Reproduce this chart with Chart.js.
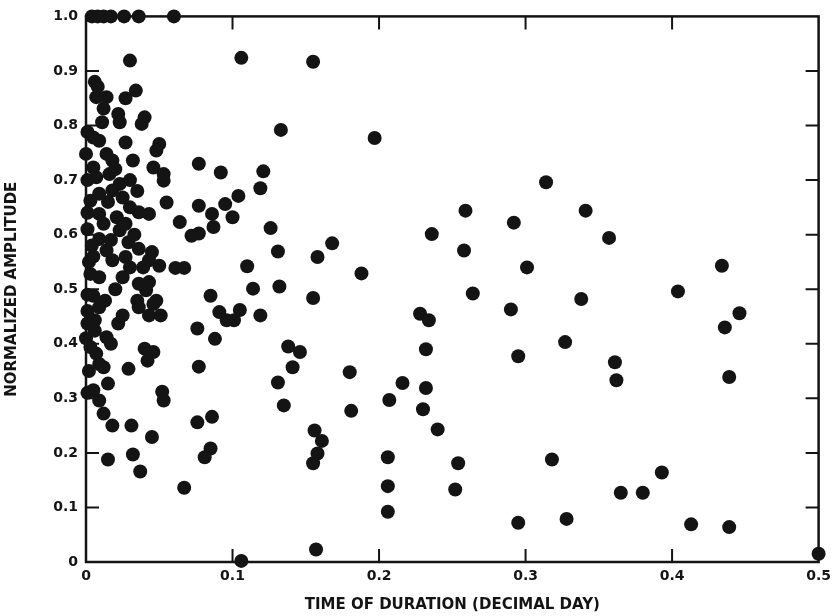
<!DOCTYPE html>
<html>
<head>
<meta charset="utf-8">
<script src="https://cdn.jsdelivr.net/npm/chart.js@4"></script>
<style>
  html, body { margin: 0; padding: 0; background: #ffffff; }
  #wrap { width: 837px; height: 616px; position: relative; }
</style>
</head>
<body>
<div id="wrap"><canvas id="c"></canvas></div>
<script>
// ---- data ----
const xTickValues = [0, 0.1, 0.2, 0.3, 0.4, 0.5];
const xTickLabels = ['0', '0.1', '0.2', '0.3', '0.4', '0.5'];
const yTickValues = [0, 0.1, 0.2, 0.3, 0.4, 0.5, 0.6, 0.7, 0.8, 0.9, 1.0];
const yTickLabels = ['0', '0.1', '0.2', '0.3', '0.4', '0.5', '0.6', '0.7', '0.8', '0.9', '1.0'];

// time of duration (decimal day)
const durations = [
  0.004, 0.008, 0.012, 0.017, 0.026, 0.036, 0.060,
  0.106, 0.155, 0.030,
  0.133, 0.197, 0.314,
  0.259, 0.292, 0.236, 0.258, 0.131, 0.158, 0.168, 0.188, 0.301, 0.264, 0.132, 0.155, 0.126, 0.121, 0.119,
  0.341, 0.357, 0.434, 0.404, 0.338,
  0.446, 0.436, 0.327, 0.361, 0.362, 0.439, 0.318, 0.393, 0.365, 0.380, 0.328, 0.413, 0.439, 0.500,
  0.290, 0.295, 0.228, 0.234, 0.232, 0.138, 0.146, 0.141, 0.131, 0.135, 0.180, 0.181, 0.216, 0.207, 0.232, 0.230, 0.240,
  0.156, 0.161, 0.158, 0.155, 0.206, 0.254, 0.206, 0.252, 0.206, 0.295, 0.157,
  0.104, 0.110, 0.114, 0.105, 0.119, 0.100,
  0.006, 0.008, 0.007, 0.014, 0.012, 0.022, 0.023, 0.011, 0.027, 0.034, 0.040, 0.038, 0.001, 0.005, 0.009, 0.027,
  0.050, 0.048, 0.000, 0.014, 0.018, 0.032, 0.046, 0.053, 0.053, 0.077, 0.092, 0.005, 0.007, 0.016, 0.023, 0.009,
  0.018, 0.025, 0.003, 0.030, 0.036, 0.043, 0.009, 0.021, 0.023, 0.029, 0.027, 0.018, 0.009, 0.014, 0.036, 0.045,
  0.050, 0.043, 0.003, 0.009, 0.025, 0.036, 0.043, 0.041, 0.005, 0.013, 0.035, 0.048,
  0.055, 0.077, 0.064, 0.072, 0.077, 0.086, 0.087, 0.095,
  0.061, 0.067, 0.085,
  0.009, 0.006, 0.006, 0.014, 0.017, 0.025, 0.022, 0.003, 0.007, 0.009, 0.012, 0.036, 0.043, 0.051, 0.046,
  0.040, 0.046, 0.042, 0.029, 0.015, 0.005, 0.009, 0.012, 0.018, 0.031, 0.076, 0.088, 0.077, 0.052, 0.053,
  0.091, 0.096, 0.101, 0.076, 0.086, 0.001,
  0.045, 0.015, 0.032, 0.037, 0.067, 0.085, 0.081, 0.106,
  0.001, 0.001, 0.001, 0.004, 0.002, 0.001, 0.001, 0.000, 0.002, 0.001,
  0.015, 0.020, 0.030, 0.035, 0.012, 0.027, 0.017, 0.030, 0.020, 0.005, 0.033, 0.039
];

// normalized amplitude
const amplitudes = [
  1.0, 1.0, 1.0, 1.0, 1.0, 1.0, 1.0,
  0.924, 0.917, 0.919,
  0.792, 0.777, 0.696,
  0.644, 0.622, 0.601, 0.571, 0.569, 0.559, 0.584, 0.529, 0.540, 0.492, 0.505, 0.484, 0.612, 0.716, 0.685,
  0.644, 0.594, 0.543, 0.496, 0.482,
  0.456, 0.430, 0.403, 0.366, 0.333, 0.339, 0.188, 0.164, 0.127, 0.127, 0.079, 0.069, 0.064, 0.015,
  0.463, 0.377, 0.455, 0.443, 0.390, 0.395, 0.385, 0.357, 0.329, 0.287, 0.348, 0.277, 0.328, 0.297, 0.319, 0.280, 0.243,
  0.241, 0.222, 0.199, 0.181, 0.192, 0.181, 0.139, 0.133, 0.092, 0.072, 0.023,
  0.671, 0.542, 0.501, 0.462, 0.452, 0.632,
  0.880, 0.871, 0.852, 0.852, 0.831, 0.821, 0.806, 0.806, 0.850, 0.864, 0.815, 0.803, 0.788, 0.778, 0.772, 0.769,
  0.766, 0.754, 0.748, 0.748, 0.736, 0.736, 0.723, 0.711, 0.699, 0.730, 0.714, 0.723, 0.705, 0.711, 0.693, 0.675,
  0.681, 0.668, 0.662, 0.650, 0.641, 0.638, 0.638, 0.632, 0.608, 0.586, 0.559, 0.553, 0.592, 0.571, 0.574, 0.568,
  0.543, 0.553, 0.528, 0.522, 0.522, 0.510, 0.513, 0.498, 0.488, 0.479, 0.479, 0.479,
  0.659, 0.653, 0.623, 0.598, 0.602, 0.638, 0.614, 0.656,
  0.539, 0.539, 0.488,
  0.467, 0.443, 0.424, 0.412, 0.400, 0.452, 0.437, 0.394, 0.382, 0.363, 0.357, 0.467, 0.452, 0.452, 0.473,
  0.391, 0.385, 0.369, 0.354, 0.327, 0.315, 0.296, 0.272, 0.250, 0.250, 0.428, 0.409, 0.358, 0.312, 0.296,
  0.458, 0.443, 0.443, 0.256, 0.266, 0.437,
  0.229, 0.188, 0.197, 0.166, 0.136, 0.208, 0.192, 0.002,
  0.700, 0.640, 0.610, 0.580, 0.550, 0.490, 0.460, 0.410, 0.350, 0.310,
  0.660, 0.720, 0.700, 0.680, 0.620, 0.620, 0.590, 0.540, 0.500, 0.560, 0.600, 0.540
];

const points = durations.map((d, i) => ({ x: d, y: amplitudes[i] }));

const INK = '#141414';

const framePlugin = {
  id: 'frame',
  beforeDatasetsDraw(chart) {
    const { ctx, chartArea, scales } = chart;
    const { left, right, top, bottom } = chartArea;
    ctx.save();
    ctx.strokeStyle = INK;
    ctx.lineWidth = 2.5;
    ctx.strokeRect(left, top, right - left, bottom - top);
    ctx.lineWidth = 2;
    const tl = 13;
    ctx.beginPath();
    xTickValues.forEach(v => {
      if (v <= scales.x.min || v >= scales.x.max) return;
      const px = scales.x.getPixelForValue(v);
      ctx.moveTo(px, bottom); ctx.lineTo(px, bottom - tl);
      ctx.moveTo(px, top); ctx.lineTo(px, top + tl);
    });
    yTickValues.forEach(v => {
      if (v <= scales.y.min || v >= scales.y.max) return;
      const py = scales.y.getPixelForValue(v);
      ctx.moveTo(left, py); ctx.lineTo(left + tl, py);
      ctx.moveTo(right, py); ctx.lineTo(right - tl, py);
    });
    ctx.stroke();
    ctx.restore();
  }
};

const tickFont = { family: '"DejaVu Sans", sans-serif', size: 14, weight: 'bold' };
const titleFont = { family: '"DejaVu Sans", sans-serif', size: 15, weight: 'bold' };

new Chart(document.getElementById('c'), {
  type: 'scatter',
  data: {
    datasets: [{
      data: points,
      backgroundColor: INK,
      borderWidth: 0,
      pointRadius: 7,
      pointHoverRadius: 7,
      clip: false
    }]
  },
  plugins: [framePlugin],
  options: {
    responsive: true,
    maintainAspectRatio: false,
    animation: false,
    events: [],
    layout: { padding: { top: 16, right: 8, left: 0, bottom: 0 } },
    plugins: { legend: { display: false }, tooltip: { enabled: false } },
    scales: {
      x: {
        type: 'linear',
        min: 0, max: 0.5,
        afterBuildTicks: s => { s.ticks = xTickValues.map(v => ({ value: v })); },
        afterFit: s => { s.height = 54; },
        grid: { display: false, drawTicks: false },
        border: { display: false },
        ticks: {
          autoSkip: false, maxRotation: 0, padding: 6, color: INK, font: tickFont,
          callback: (v, i) => xTickLabels[i]
        },
        title: {
          display: true, text: 'TIME OF DURATION (DECIMAL DAY)',
          color: INK, font: titleFont, padding: { top: 0, bottom: 2 }
        }
      },
      y: {
        type: 'linear',
        min: 0, max: 1,
        afterBuildTicks: s => { s.ticks = yTickValues.map(v => ({ value: v })); },
        afterFit: s => { s.width = 86; },
        grid: { display: false, drawTicks: false },
        border: { display: false },
        ticks: {
          autoSkip: false, padding: 8, color: INK, font: tickFont,
          callback: (v, i) => yTickLabels[i]
        },
        title: {
          display: true, text: 'NORMALIZED AMPLITUDE',
          color: INK, font: titleFont, padding: { top: 3, bottom: 0 }
        }
      }
    }
  }
});
</script>
</body>
</html>
